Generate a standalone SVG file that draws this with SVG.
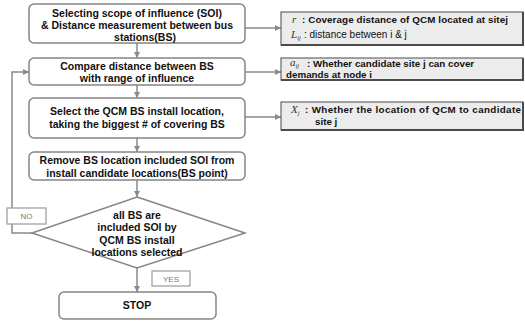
<svg xmlns="http://www.w3.org/2000/svg" width="525" height="322" viewBox="0 0 525 322">
  <defs>
    <marker id="arrow" viewBox="0 0 6 6" refX="6" refY="3" markerWidth="6" markerHeight="6" markerUnits="userSpaceOnUse" orient="auto">
      <path d="M0,0 L6,3 L0,6 z" fill="#8a8a8a"/>
    </marker>
    <style>
      .step { fill: #ffffff; stroke: #858585; stroke-width: 1.5; }
      .note { fill: #ececec; stroke: #4a4a4a; stroke-width: 1; }
      .shade { fill: none; stroke: #4a4a4a; stroke-width: 2; }
      .tag { fill: #ffffff; stroke: #9a9a9a; stroke-width: 1.2; }
      .link { fill: none; stroke: #8a8a8a; stroke-width: 1.5; }
      .main { font-family: "Liberation Sans", Arial, sans-serif; font-weight: bold; font-size: 10.5px; fill: #111; text-anchor: middle; }
      .txt { font-family: "Liberation Sans", Arial, sans-serif; font-weight: bold; font-size: 9.8px; fill: #111; }
      .plain { font-family: "Liberation Sans", Arial, sans-serif; font-size: 10px; fill: #111; }
      .math { font-family: "Liberation Serif", "Times New Roman", serif; font-style: italic; font-size: 11px; fill: #333; }
      .sub { font-size: 6.5px; }
      .lbl { font-family: "Liberation Sans", Arial, sans-serif; font-size: 8px; fill: #777; text-anchor: middle; }
    </style>
  </defs>

  <!-- connectors -->
  <g id="connectors">
    <line class="link" x1="137" y1="43" x2="137" y2="58" marker-end="url(#arrow)"/>
    <line class="link" x1="137" y1="85" x2="137" y2="98" marker-end="url(#arrow)"/>
    <line class="link" x1="137" y1="138" x2="137" y2="152" marker-end="url(#arrow)"/>
    <line class="link" x1="137" y1="180" x2="137" y2="197" marker-end="url(#arrow)"/>
    <line class="link" x1="137" y1="268" x2="137" y2="292" marker-end="url(#arrow)"/>
    <polyline class="link" points="32,233 12,233 12,72 29,72" marker-end="url(#arrow)"/>
    <line class="link" x1="245" y1="28" x2="281" y2="28" marker-end="url(#arrow)"/>
    <line class="link" x1="245" y1="72" x2="281" y2="72" marker-end="url(#arrow)"/>
    <line class="link" x1="245" y1="117" x2="281" y2="117" marker-end="url(#arrow)"/>
  </g>

  <!-- process steps -->
  <g id="step-soi">
    <rect class="step" x="29" y="4" width="216" height="39" rx="5"/>
    <text class="main" x="137" y="17">Selecting scope of influence (SOI)</text>
    <text class="main" x="137" y="29">&amp; Distance measurement between bus</text>
    <text class="main" x="145" y="41">stations(BS)</text>
  </g>
  <g id="step-compare">
    <rect class="step" x="29" y="58" width="216" height="27" rx="5"/>
    <text class="main" x="137" y="69.5">Compare distance between BS</text>
    <text class="main" x="137" y="81.5">with range of influence</text>
  </g>
  <g id="step-select">
    <rect class="step" x="29" y="98" width="216" height="40" rx="5"/>
    <text class="main" x="137" y="115">Select the QCM BS install location,</text>
    <text class="main" x="137" y="128">taking the biggest # of covering BS</text>
  </g>
  <g id="step-remove">
    <rect class="step" x="29" y="152" width="216" height="28" rx="5"/>
    <text class="main" x="137" y="164">Remove BS location included SOI from</text>
    <text class="main" x="137" y="177">install candidate locations(BS point)</text>
  </g>
  <g id="decision">
    <polygon class="step" points="137,197 245,233 137,268 32,233"/>
    <text class="main" x="137" y="219">all BS are</text>
    <text class="main" x="137" y="231">included SOI by</text>
    <text class="main" x="137" y="243.5">QCM BS install</text>
    <text class="main" x="137" y="256">locations selected</text>
  </g>
  <g id="step-stop">
    <rect class="step" x="59" y="292" width="157" height="27" rx="5"/>
    <text class="main" x="137" y="309">STOP</text>
  </g>
  <g id="label-no">
    <rect class="tag" x="7" y="208" width="39" height="16"/>
    <text class="lbl" x="26.5" y="219">NO</text>
  </g>
  <g id="label-yes">
    <rect class="tag" x="152" y="271" width="38" height="15"/>
    <text class="lbl" x="171" y="281.5">YES</text>
  </g>

  <!-- variable notes -->
  <g id="note-r-l">
    <rect class="note" x="281" y="12" width="242" height="33"/>
    <polyline class="shade" points="523,12 523,45 281,45"/>
    <text class="math" x="292" y="23">r</text>
    <text class="txt" x="302" y="23" textLength="206" lengthAdjust="spacing">:  Coverage distance of QCM located at sitej</text>
    <text class="math" x="291" y="38">L<tspan class="sub" dy="2">ij</tspan></text>
    <text class="plain" x="304" y="38">: distance between i &amp; j</text>
  </g>
  <g id="note-a">
    <rect class="note" x="281" y="58" width="242" height="22"/>
    <polyline class="shade" points="523,58 523,80 281,80"/>
    <text class="math" x="290" y="66">a<tspan class="sub" dy="1.5">ij</tspan></text>
    <text class="txt" x="307" y="66.5">:   Whether candidate site j can cover</text>
    <text class="txt" x="286" y="78">demands at node i</text>
  </g>
  <g id="note-x">
    <rect class="note" x="281" y="102" width="242" height="28"/>
    <polyline class="shade" points="523,102 523,130 281,130"/>
    <text class="math" x="291" y="113">X<tspan class="sub" dy="2">j</tspan></text>
    <text class="txt" x="305" y="113" textLength="216" lengthAdjust="spacing">:  Whether the location of QCM to candidate</text>
    <text class="txt" x="315" y="125">site j</text>
  </g>
</svg>
